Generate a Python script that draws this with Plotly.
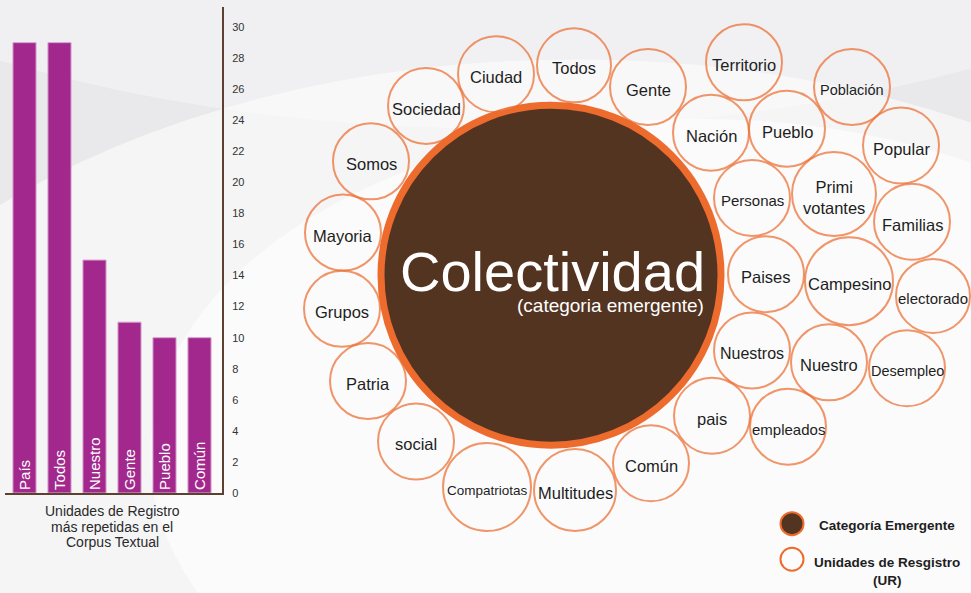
import plotly.graph_objects as go

# ---------------- data ----------------
bar_categories = ["País", "Todos", "Nuestro", "Gente", "Pueblo", "Común"]
bar_values = [29, 29, 15, 11, 10, 10]
bar_ticks = list(range(0, 31, 2))
bar_caption = ["Unidades de Registro", "más repetidas en el", "Corpus Textual"]

center_word = "Colectividad"
center_sub = "(categoria emergente)"

bubble_words = ["Sociedad", "Ciudad", "Todos", "Gente", "Somos", "Mayoria", "Grupos",
                "Patria", "social", "Compatriotas", "Multitudes", "Común", "pais",
                "empleados", "Nuestros", "Nuestro", "Desempleo", "Paises", "Campesino",
                "electorado", "Personas", "Primi<br>votantes", "Familias", "Nación",
                "Pueblo", "Popular", "Territorio", "Población"]
bubble_x = [426, 496, 574, 648, 371, 343, 342, 368, 416, 487, 575, 651, 712,
            788, 752, 829, 907, 766, 849, 933, 752, 834, 912, 711, 787, 901, 744, 852]
bubble_y = [107, 75, 66, 88, 163, 235, 312, 385, 446, 492, 495, 468, 420,
            431, 354, 366, 372, 277, 284, 299, 200, 196, 224, 134, 130, 147, 63, 88]
bubble_r = [39, 39, 38, 39, 39, 39, 39, 39, 39, 45, 42, 39, 39,
            39, 39, 39, 39, 39, 45, 38, 39, 43, 39, 39, 39, 39, 39, 39]
bubble_font = [16.5, 16.5, 16.5, 16.5, 16.5, 16.5, 16.5, 16.5, 16.5, 13.5, 16.5, 16.5, 16.5,
               15, 16, 16.5, 14.5, 16.5, 16.5, 15, 15, 16.5, 16.5, 16.5, 16.5, 16.5, 16.5, 14.5]

legend_labels = ["Categoría Emergente", "Unidades de Resgistro<br>(UR)"]

# ---------------- styles ----------------
FONT = "Liberation Sans, Arial, Helvetica, sans-serif"
PURPLE = "#A2288D"
BROWN = "#533421"
ORANGE = "#EC6B2D"
AXIS_BROWN = "#5E4030"
W, H = 971, 593
TEXT_DY = 3  # small downward nudge (px) so glyphs sit optically centred

fig = go.Figure()

# background swirl, defined in pixels and placed in paper coordinates (below everything)
bg_shapes = [
    (-250, 1400, 60, 1100, "rgba(255,255,255,0.55)"),
    (150, 1250, 120, 800, "rgba(255,255,255,0.55)"),
    (-500, 1500, -900, 130, "rgba(255,255,255,0.35)"),
]
for x0, x1, y0, y1, col in bg_shapes:
    fig.add_shape(type="circle", xref="paper", yref="paper",
                  x0=x0 / W, x1=x1 / W, y0=1 - y1 / H, y1=1 - y0 / H,
                  fillcolor=col, line_width=0, layer="below")

# ---------------- bar chart ----------------
fig.add_trace(go.Bar(
    x=bar_categories, y=bar_values, text=bar_categories,
    textposition="inside", insidetextanchor="start", textangle=-90,
    textfont=dict(color="white", size=15, family=FONT),
    marker=dict(color=PURPLE, line=dict(color="#D9A3CF", width=1)),
    width=0.66, xaxis="x", yaxis="y", hoverinfo="skip", showlegend=False,
))

# ---------------- bubbles ----------------
fig.add_trace(go.Scatter(
    x=[551], y=[278], mode="markers",
    marker=dict(size=340, color=BROWN, line=dict(color=ORANGE, width=7)),
    xaxis="x2", yaxis="y2", hoverinfo="skip", showlegend=False,
))
fig.add_trace(go.Scatter(
    x=bubble_x, y=bubble_y, mode="markers",
    marker=dict(size=[2 * r - 2 for r in bubble_r], color="rgba(255,255,255,0.15)",
                line=dict(color=ORANGE, width=2)),
    xaxis="x2", yaxis="y2", hoverinfo="skip", showlegend=False,
))

# legend markers
fig.add_trace(go.Scatter(
    x=[792, 792], y=[529, 565], mode="markers",
    marker=dict(size=23, color=[BROWN, "rgba(255,255,255,0.3)"], line=dict(color=ORANGE, width=2)),
    xaxis="x2", yaxis="y2", hoverinfo="skip", showlegend=False,
))

annotations = [
    dict(x=552, y=271, text=center_word, xanchor="center", yanchor="middle",
         font=dict(size=56, color="white", family=FONT)),
    dict(x=706, y=306, text=center_sub, xanchor="right", yanchor="middle",
         font=dict(size=19, color="white", family=FONT)),
    dict(x=887, y=528, text="<b>" + legend_labels[0] + "</b>", xanchor="center", yanchor="middle",
         font=dict(size=13.5, color="#1E1E1E", family=FONT)),
    dict(x=887, y=574, text="<b>" + legend_labels[1] + "</b>", xanchor="center", yanchor="middle",
         font=dict(size=13.5, color="#1E1E1E", family=FONT)),
]
for w, x, y, fs in zip(bubble_words, bubble_x, bubble_y, bubble_font):
    annotations.append(dict(x=x, y=y, text=w, xanchor="center", yanchor="middle",
                            font=dict(size=fs, color="#1E1E1E", family=FONT)))
for i, line in enumerate(bar_caption):
    annotations.append(dict(x=112, y=513 + 16 * i, text=line, xanchor="center", yanchor="middle",
                            font=dict(size=14, color="#2A2A2A", family=FONT)))
for a in annotations:
    a.update(xref="x2", yref="y2", showarrow=False, yshift=-TEXT_DY)

fig.update_layout(
    width=W, height=H, margin=dict(l=0, r=0, t=0, b=0),
    paper_bgcolor="#E9E9EB", plot_bgcolor="rgba(0,0,0,0)",
    uniformtext=dict(minsize=15, mode="show"),
    annotations=annotations,
    xaxis=dict(domain=[5 / W, 222 / W], range=[-0.557, 5.643], showticklabels=False,
               showline=True, linecolor=AXIS_BROWN, linewidth=2, showgrid=False, zeroline=False,
               ticks="", fixedrange=True),
    yaxis=dict(domain=[(H - 498) / H, (H - 7) / H], range=[0, 31.3], side="right",
               anchor="x", tickvals=bar_ticks, showline=True, linecolor=AXIS_BROWN, linewidth=2,
               showgrid=False, zeroline=False, ticks="", ticklabelstandoff=6,
               tickfont=dict(size=11, color="#333333", family=FONT)),
    xaxis2=dict(domain=[0, 1], range=[0, W], visible=False, anchor="y2"),
    yaxis2=dict(domain=[0, 1], range=[H, 0], visible=False, anchor="x2"),
)

fig.write_html("out.html", config={"displayModeBar": False},
               post_script="document.body.style.margin='0';document.body.style.overflow='hidden';")
